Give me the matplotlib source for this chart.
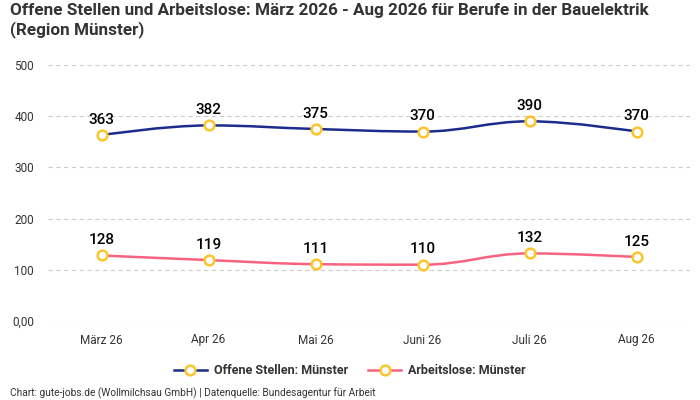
import matplotlib
matplotlib.use("Agg")
import matplotlib.pyplot as plt
from matplotlib.path import Path
from matplotlib.patches import PathPatch
from matplotlib.lines import Line2D

plt.rcParams['font.family'] = ['Roboto', 'DejaVu Sans']

months = ["März 26", "Apr 26", "Mai 26", "Juni 26", "Juli 26", "Aug 26"]
offene_stellen = [363, 382, 375, 370, 390, 370]
arbeitslose = [128, 119, 111, 110, 132, 125]
y_ticks = [0, 100, 200, 300, 400, 500]
y_tick_labels = ["0,00", "100", "200", "300", "400", "500"]

BLUE = "#1b2c8c"
PINK = "#f7637f"
MARKER = "#fdc52c"
TEXT = "#333333"


def spline_path(xs, ys, smoothing=1.5):
    # bezier spline like highcharts draws it
    n = len(xs)
    left = [None] * n
    right = [None] * n
    denom = smoothing + 1
    for i in range(n):
        if i == 0 or i == n - 1:
            left[i] = (xs[i], ys[i])
            right[i] = (xs[i], ys[i])
            continue
        lx = (smoothing * xs[i] + xs[i - 1]) / denom
        ly = (smoothing * ys[i] + ys[i - 1]) / denom
        rx = (smoothing * xs[i] + xs[i + 1]) / denom
        ry = (smoothing * ys[i] + ys[i + 1]) / denom
        corr = (ry - ly) * (rx - xs[i]) / (rx - lx) + ys[i] - ry
        ly += corr
        ry += corr
        if ly > ys[i - 1] and ly > ys[i]:
            ly = max(ys[i - 1], ys[i]); ry = 2 * ys[i] - ly
        elif ly < ys[i - 1] and ly < ys[i]:
            ly = min(ys[i - 1], ys[i]); ry = 2 * ys[i] - ly
        if ry > ys[i + 1] and ry > ys[i]:
            ry = max(ys[i + 1], ys[i]); ly = 2 * ys[i] - ry
        elif ry < ys[i + 1] and ry < ys[i]:
            ry = min(ys[i + 1], ys[i]); ly = 2 * ys[i] - ry
        left[i] = (lx, ly)
        right[i] = (rx, ry)
    verts = [(xs[0], ys[0])]
    codes = [Path.MOVETO]
    for i in range(1, n):
        verts += [right[i - 1], left[i], (xs[i], ys[i])]
        codes += [Path.CURVE4] * 3
    return Path(verts, codes)


fig = plt.figure(figsize=(7, 4), dpi=100)
ax = fig.add_axes([48 / 700, 1 - 321 / 400, 642 / 700, 256 / 400])

x = list(range(len(months)))
for values, color in [(offene_stellen, BLUE), (arbeitslose, PINK)]:
    ax.add_patch(PathPatch(spline_path(x, values), facecolor="none",
                           edgecolor=color, lw=1.8, zorder=3))
    ax.plot(x, values, linestyle="none", marker="o", ms=7, mfc="white",
            mec=MARKER, mew=1.8, zorder=4)
    for xi, v in zip(x, values):
        ax.annotate(str(v), (xi, v), xytext=(0, 6), textcoords="offset points",
                    ha="center", va="bottom", fontsize=11, fontweight="medium",
                    color="black", zorder=5)

ax.set_xlim(-0.5, len(months) - 0.5)
ax.set_ylim(0, 500)
ax.set_xticks(x)
ax.set_xticklabels(months)
ax.set_yticks(y_ticks)
ax.set_yticklabels(y_tick_labels)
ax.tick_params(axis="both", length=0, labelsize=8.5, colors=TEXT)
ax.tick_params(axis="x", pad=9)
ax.tick_params(axis="y", pad=10)
ax.grid(axis="y", linestyle=(0, (4, 3)), color="#cccccc", lw=0.8)
ax.set_axisbelow(True)
for s in ax.spines.values():
    s.set_visible(False)

fig.text(10 / 700, 1 - 3 / 400,
         "Offene Stellen und Arbeitslose: März 2026 - Aug 2026 für Berufe in der Bauelektrik\n(Region Münster)",
         ha="left", va="top", fontsize=12.3, fontweight="bold", color=TEXT,
         linespacing=1.25)

handles = [
    Line2D([], [], color=BLUE, lw=1.8, marker="o", ms=7, mfc="white", mec=MARKER, mew=1.8),
    Line2D([], [], color=PINK, lw=1.8, marker="o", ms=7, mfc="white", mec=MARKER, mew=1.8),
]
fig.legend(handles, ["Offene Stellen: Münster", "Arbeitslose: Münster"],
           loc="center", bbox_to_anchor=(0.5, 1 - 371 / 400), ncol=2,
           frameon=False, handlelength=2.6, handletextpad=0.6, columnspacing=1.6,
           prop={"size": 9, "weight": "bold"}, labelcolor=TEXT)

fig.text(10 / 700, 1 - 393 / 400,
         "Chart: gute-jobs.de (Wollmilchsau GmbH) | Datenquelle: Bundesagentur für Arbeit",
         ha="left", va="center", fontsize=7.3, color=TEXT)

fig.savefig("out.png", dpi=100)
